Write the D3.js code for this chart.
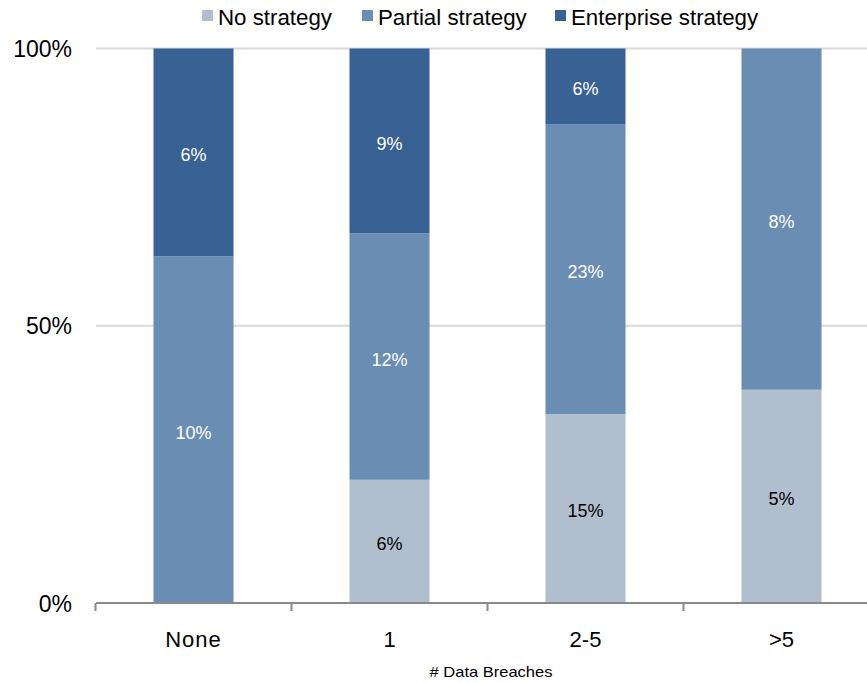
<!DOCTYPE html>
<html>
<head>
<meta charset="utf-8">
<script src="https://cdn.jsdelivr.net/npm/d3@7/dist/d3.min.js"></script>
<style>
  html, body { margin: 0; padding: 0; background: #fff; }
  svg { display: block; font-family: "Liberation Sans", Arial, sans-serif; }
</style>
</head>
<body>
<svg id="chart" width="867" height="683"></svg>
<script>
// Share of organisations by number of data breaches, split by strategy type
const categories = ["None", "1", "2-5", ">5"];
const seriesNames = ["No strategy", "Partial strategy", "Enterprise strategy"];
const noStrategy = [0, 6, 15, 5];
const partialStrategy = [10, 12, 23, 8];
const enterpriseStrategy = [6, 9, 6, 0];
const yTicks = [0, 0.5, 1];
const yTickLabels = ["0%", "50%", "100%"];
const xTitle = "# Data Breaches";
const colors = ["#b1becd", "#6a8db4", "#386194"];
const labelColors = ["#000000", "#ffffff", "#ffffff"];

const rows = categories.map((c, i) => ({
  category: c,
  "No strategy": noStrategy[i],
  "Partial strategy": partialStrategy[i],
  "Enterprise strategy": enterpriseStrategy[i]
}));

const svg = d3.select("#chart");
const W = 867;

const x = d3.scaleBand()
  .domain(categories)
  .range([95.5, 879.5])
  .paddingInner(0.5918)
  .paddingOuter(0.2959);

const y = d3.scaleLinear().domain([0, 1]).range([603, 48.5]);

// Horizontal gridlines
svg.append("g")
  .selectAll("line")
  .data(yTicks.filter(t => t > 0))
  .join("line")
  .attr("x1", 96).attr("x2", W)
  .attr("y1", d => y(d)).attr("y2", d => y(d))
  .attr("stroke", "#d9d9d9")
  .attr("stroke-width", 2);

// Y tick labels
svg.append("g")
  .selectAll("text")
  .data(yTicks)
  .join("text")
  .attr("x", 72)
  .attr("y", d => y(d))
  .attr("dy", "0.38em")
  .attr("text-anchor", "end")
  .attr("font-size", 23)
  .attr("fill", "#000")
  .text((d, i) => yTickLabels[i]);

// Stacked bars normalised to 100%
const stack = d3.stack()
  .keys(seriesNames)
  .offset(d3.stackOffsetExpand);
const layers = stack(rows);

const layerG = svg.append("g")
  .selectAll("g")
  .data(layers)
  .join("g")
  .attr("fill", (d, i) => colors[i]);

layerG.selectAll("rect")
  .data(d => d.filter(s => s.data[d.key] > 0))
  .join("rect")
  .attr("x", d => x(d.data.category))
  .attr("width", x.bandwidth())
  .attr("y", d => y(d[1]))
  .attr("height", d => y(d[0]) - y(d[1]));

// Value labels centred in each segment
svg.append("g")
  .selectAll("g")
  .data(layers)
  .join("g")
  .attr("fill", (d, i) => labelColors[i])
  .selectAll("text")
  .data(d => d.filter(s => s.data[d.key] > 0).map(s => ({ s, key: d.key })))
  .join("text")
  .attr("x", d => x(d.s.data.category) + x.bandwidth() / 2)
  .attr("y", d => (y(d.s[0]) + y(d.s[1])) / 2)
  .attr("dy", "0.5em")
  .attr("text-anchor", "middle")
  .attr("font-size", 18)
  .text(d => d.s.data[d.key] + "%");

// X axis line and boundary ticks
const axisG = svg.append("g").attr("stroke", "#898989").attr("stroke-width", 2);
axisG.append("line")
  .attr("x1", 96).attr("x2", W)
  .attr("y1", y(0)).attr("y2", y(0));
const boundaries = categories.map(c => x(c) - x.step() * x.paddingOuter());
axisG.selectAll("line.tick")
  .data(boundaries)
  .join("line")
  .attr("class", "tick")
  .attr("x1", d => d).attr("x2", d => d)
  .attr("y1", y(0)).attr("y2", y(0) + 8);

// Category labels
svg.append("g")
  .selectAll("text")
  .data(categories)
  .join("text")
  .attr("x", d => x(d) + x.bandwidth() / 2)
  .attr("y", 647)
  .attr("text-anchor", "middle")
  .attr("font-size", 22)
  .attr("letter-spacing", d => d === "None" ? "1px" : "0px")
  .attr("fill", "#000")
  .text(d => d);

// Axis title
svg.append("text")
  .attr("x", 491)
  .attr("y", 677)
  .attr("text-anchor", "middle")
  .attr("font-size", 15)
  .attr("fill", "#000")
  .attr("textLength", 123)
  .attr("lengthAdjust", "spacingAndGlyphs")
  .text(xTitle);

// Legend
const legendX = [202, 362, 555];
const legend = svg.append("g")
  .selectAll("g")
  .data(seriesNames)
  .join("g")
  .attr("transform", (d, i) => `translate(${legendX[i]},0)`);
legend.append("rect")
  .attr("x", 0).attr("y", 10)
  .attr("width", 11).attr("height", 11)
  .attr("fill", (d, i) => colors[i]);
legend.append("text")
  .attr("x", 16)
  .attr("y", 25)
  .attr("font-size", 22.3)
  .attr("fill", "#000")
  .text(d => d);
</script>
</body>
</html>
